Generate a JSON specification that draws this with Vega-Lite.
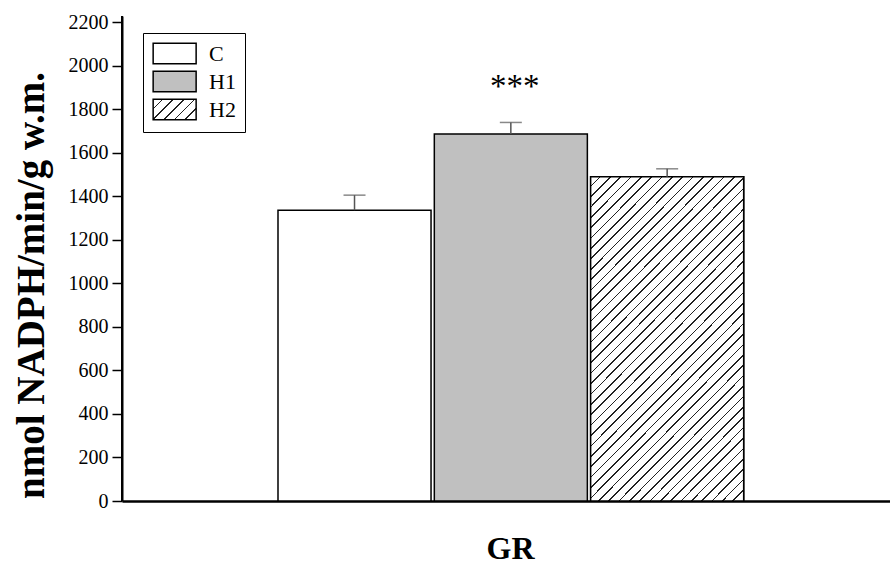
{
  "$schema": "https://vega.github.io/schema/vega-lite/v6.json",
  "autosize": {"type": "none"},
  "width": 768,
  "height": 485,
  "padding": {"left": 122, "top": 16, "right": 0, "bottom": 65},
  "background": "white",
  "config": {"view": {"stroke": null}},
  "data": {"values": [
    {"g": "C", "mean": 1336, "hi": 1405, "sig": ""},
    {"g": "H1", "mean": 1686, "hi": 1739, "sig": "***"},
    {"g": "H2", "mean": 1489, "hi": 1526, "sig": ""}
  ]},
  "encoding": {
    "x": {"field": "g", "type": "nominal",
      "scale": {"domain": ["C", "H1", "H2"], "paddingInner": 0.021, "paddingOuter": 0.967, "align": 0.516},
      "axis": {"orient": "bottom", "labels": false, "ticks": false, "domainWidth": 2.5, "domainColor": "black",
        "title": "GR", "titleFont": "Liberation Serif", "titleFontSize": 32, "titleFontWeight": "bold", "titleColor": "black",
        "titleBaseline": "alphabetic", "titleY": 57, "titleX": 388}
    }
  },
  "layer": [
    {
      "mark": {"type": "bar", "stroke": "black", "strokeWidth": 1.5},
      "encoding": {
        "y": {"field": "mean", "type": "quantitative",
          "scale": {"domain": [0, 2228], "nice": false, "zero": true},
          "axis": {
            "values": [0,100,200,300,400,500,600,700,800,900,1000,1100,1200,1300,1400,1500,1600,1700,1800,1900,2000,2100,2200],
            "format": "d",
            "labelExpr": "datum.value % 200 === 0 ? datum.label : ''",
            "tickSize": {"condition": {"test": "datum.value % 200 === 0", "value": 10}, "value": 5},
            "tickWidth": 1.5, "tickColor": "black", "domainColor": "black", "domainWidth": 2,
            "grid": false, "labelFont": "Liberation Serif", "labelFontSize": 20, "labelColor": "black", "labelPadding": 4,
            "title": "nmol NADPH/min/g w.m.", "titleFont": "Liberation Serif", "titleFontSize": 39, "titleFontWeight": "bold",
            "titleColor": "black", "titleAngle": -90, "titleBaseline": "alphabetic", "titleAlign": "center", "titleX": -79, "titleY": 269
          }
        },
        "fill": {"field": "g", "type": "nominal",
          "scale": {"domain": ["C", "H1", "H2"], "range": ["#ffffff", "#c0c0c0",
            {"expr": "{gradient: 'linear', x1: 0, y1: 0, x2: 1.2026, y2: 0.5789, stops: [{offset: 0, color: '#fff'}, {offset: 0.14, color: '#fff'}, {offset: 0.14, color: '#222'}, {offset: 0.1667, color: '#222'}, {offset: 0.1667, color: '#fff'}, {offset: 0.3067, color: '#fff'}, {offset: 0.3067, color: '#222'}, {offset: 0.3333, color: '#222'}, {offset: 0.3333, color: '#fff'}, {offset: 0.4733, color: '#fff'}, {offset: 0.4733, color: '#222'}, {offset: 0.5, color: '#222'}, {offset: 0.5, color: '#fff'}, {offset: 0.64, color: '#fff'}, {offset: 0.64, color: '#222'}, {offset: 0.6667, color: '#222'}, {offset: 0.6667, color: '#fff'}, {offset: 0.8067, color: '#fff'}, {offset: 0.8067, color: '#222'}, {offset: 0.8333, color: '#222'}, {offset: 0.8333, color: '#fff'}, {offset: 0.9733, color: '#fff'}, {offset: 0.9733, color: '#222'}, {offset: 1, color: '#222'}]}"}
          ]},
          "legend": {
            "orient": "none", "legendX": 21, "legendY": 17, "title": null,
            "strokeColor": "black", "fillColor": "white", "padding": 9,
            "symbolType": "M-1,-1H3.155V1H-1Z", "symbolSize": 428,
            "symbolStrokeColor": "black", "symbolStrokeWidth": 1.5,
            "labelFont": "Liberation Serif", "labelFontSize": 22, "labelColor": "black", "labelOffset": 34, "rowPadding": 1
          }
        }
      }
    },
    {
      "transform": [{"filter": "datum.g === 'H2'"}],
      "mark": {"type": "bar", "stroke": "black", "strokeWidth": 1.5,
        "fill": {"gradient": "linear", "x1": 0, "y1": 0, "x2": 0.5717, "y2": 1.2035, "stops": [
          {"offset": 0, "color": "#fff"},
          {"offset": 0.0182, "color": "#fff"}, {"offset": 0.0182, "color": "#222"}, {"offset": 0.0217, "color": "#222"}, {"offset": 0.0217, "color": "#fff"},
          {"offset": 0.0400, "color": "#fff"}, {"offset": 0.0400, "color": "#222"}, {"offset": 0.0435, "color": "#222"}, {"offset": 0.0435, "color": "#fff"},
          {"offset": 0.0617, "color": "#fff"}, {"offset": 0.0617, "color": "#222"}, {"offset": 0.0652, "color": "#222"}, {"offset": 0.0652, "color": "#fff"},
          {"offset": 0.0835, "color": "#fff"}, {"offset": 0.0835, "color": "#222"}, {"offset": 0.0870, "color": "#222"}, {"offset": 0.0870, "color": "#fff"},
          {"offset": 0.1052, "color": "#fff"}, {"offset": 0.1052, "color": "#222"}, {"offset": 0.1087, "color": "#222"}, {"offset": 0.1087, "color": "#fff"},
          {"offset": 0.1269, "color": "#fff"}, {"offset": 0.1269, "color": "#222"}, {"offset": 0.1304, "color": "#222"}, {"offset": 0.1304, "color": "#fff"},
          {"offset": 0.1487, "color": "#fff"}, {"offset": 0.1487, "color": "#222"}, {"offset": 0.1522, "color": "#222"}, {"offset": 0.1522, "color": "#fff"},
          {"offset": 0.1704, "color": "#fff"}, {"offset": 0.1704, "color": "#222"}, {"offset": 0.1739, "color": "#222"}, {"offset": 0.1739, "color": "#fff"},
          {"offset": 0.1922, "color": "#fff"}, {"offset": 0.1922, "color": "#222"}, {"offset": 0.1957, "color": "#222"}, {"offset": 0.1957, "color": "#fff"},
          {"offset": 0.2139, "color": "#fff"}, {"offset": 0.2139, "color": "#222"}, {"offset": 0.2174, "color": "#222"}, {"offset": 0.2174, "color": "#fff"},
          {"offset": 0.2356, "color": "#fff"}, {"offset": 0.2356, "color": "#222"}, {"offset": 0.2391, "color": "#222"}, {"offset": 0.2391, "color": "#fff"},
          {"offset": 0.2574, "color": "#fff"}, {"offset": 0.2574, "color": "#222"}, {"offset": 0.2609, "color": "#222"}, {"offset": 0.2609, "color": "#fff"},
          {"offset": 0.2791, "color": "#fff"}, {"offset": 0.2791, "color": "#222"}, {"offset": 0.2826, "color": "#222"}, {"offset": 0.2826, "color": "#fff"},
          {"offset": 0.3008, "color": "#fff"}, {"offset": 0.3008, "color": "#222"}, {"offset": 0.3043, "color": "#222"}, {"offset": 0.3043, "color": "#fff"},
          {"offset": 0.3226, "color": "#fff"}, {"offset": 0.3226, "color": "#222"}, {"offset": 0.3261, "color": "#222"}, {"offset": 0.3261, "color": "#fff"},
          {"offset": 0.3443, "color": "#fff"}, {"offset": 0.3443, "color": "#222"}, {"offset": 0.3478, "color": "#222"}, {"offset": 0.3478, "color": "#fff"},
          {"offset": 0.3661, "color": "#fff"}, {"offset": 0.3661, "color": "#222"}, {"offset": 0.3696, "color": "#222"}, {"offset": 0.3696, "color": "#fff"},
          {"offset": 0.3878, "color": "#fff"}, {"offset": 0.3878, "color": "#222"}, {"offset": 0.3913, "color": "#222"}, {"offset": 0.3913, "color": "#fff"},
          {"offset": 0.4095, "color": "#fff"}, {"offset": 0.4095, "color": "#222"}, {"offset": 0.4130, "color": "#222"}, {"offset": 0.4130, "color": "#fff"},
          {"offset": 0.4313, "color": "#fff"}, {"offset": 0.4313, "color": "#222"}, {"offset": 0.4348, "color": "#222"}, {"offset": 0.4348, "color": "#fff"},
          {"offset": 0.4530, "color": "#fff"}, {"offset": 0.4530, "color": "#222"}, {"offset": 0.4565, "color": "#222"}, {"offset": 0.4565, "color": "#fff"},
          {"offset": 0.4748, "color": "#fff"}, {"offset": 0.4748, "color": "#222"}, {"offset": 0.4783, "color": "#222"}, {"offset": 0.4783, "color": "#fff"},
          {"offset": 0.4965, "color": "#fff"}, {"offset": 0.4965, "color": "#222"}, {"offset": 0.5000, "color": "#222"}, {"offset": 0.5000, "color": "#fff"},
          {"offset": 0.5182, "color": "#fff"}, {"offset": 0.5182, "color": "#222"}, {"offset": 0.5217, "color": "#222"}, {"offset": 0.5217, "color": "#fff"},
          {"offset": 0.5400, "color": "#fff"}, {"offset": 0.5400, "color": "#222"}, {"offset": 0.5435, "color": "#222"}, {"offset": 0.5435, "color": "#fff"},
          {"offset": 0.5617, "color": "#fff"}, {"offset": 0.5617, "color": "#222"}, {"offset": 0.5652, "color": "#222"}, {"offset": 0.5652, "color": "#fff"},
          {"offset": 0.5835, "color": "#fff"}, {"offset": 0.5835, "color": "#222"}, {"offset": 0.5870, "color": "#222"}, {"offset": 0.5870, "color": "#fff"},
          {"offset": 0.6052, "color": "#fff"}, {"offset": 0.6052, "color": "#222"}, {"offset": 0.6087, "color": "#222"}, {"offset": 0.6087, "color": "#fff"},
          {"offset": 0.6269, "color": "#fff"}, {"offset": 0.6269, "color": "#222"}, {"offset": 0.6304, "color": "#222"}, {"offset": 0.6304, "color": "#fff"},
          {"offset": 0.6487, "color": "#fff"}, {"offset": 0.6487, "color": "#222"}, {"offset": 0.6522, "color": "#222"}, {"offset": 0.6522, "color": "#fff"},
          {"offset": 0.6704, "color": "#fff"}, {"offset": 0.6704, "color": "#222"}, {"offset": 0.6739, "color": "#222"}, {"offset": 0.6739, "color": "#fff"},
          {"offset": 0.6922, "color": "#fff"}, {"offset": 0.6922, "color": "#222"}, {"offset": 0.6957, "color": "#222"}, {"offset": 0.6957, "color": "#fff"},
          {"offset": 0.7139, "color": "#fff"}, {"offset": 0.7139, "color": "#222"}, {"offset": 0.7174, "color": "#222"}, {"offset": 0.7174, "color": "#fff"},
          {"offset": 0.7356, "color": "#fff"}, {"offset": 0.7356, "color": "#222"}, {"offset": 0.7391, "color": "#222"}, {"offset": 0.7391, "color": "#fff"},
          {"offset": 0.7574, "color": "#fff"}, {"offset": 0.7574, "color": "#222"}, {"offset": 0.7609, "color": "#222"}, {"offset": 0.7609, "color": "#fff"},
          {"offset": 0.7791, "color": "#fff"}, {"offset": 0.7791, "color": "#222"}, {"offset": 0.7826, "color": "#222"}, {"offset": 0.7826, "color": "#fff"},
          {"offset": 0.8009, "color": "#fff"}, {"offset": 0.8009, "color": "#222"}, {"offset": 0.8044, "color": "#222"}, {"offset": 0.8044, "color": "#fff"},
          {"offset": 0.8226, "color": "#fff"}, {"offset": 0.8226, "color": "#222"}, {"offset": 0.8261, "color": "#222"}, {"offset": 0.8261, "color": "#fff"},
          {"offset": 0.8443, "color": "#fff"}, {"offset": 0.8443, "color": "#222"}, {"offset": 0.8478, "color": "#222"}, {"offset": 0.8478, "color": "#fff"},
          {"offset": 0.8661, "color": "#fff"}, {"offset": 0.8661, "color": "#222"}, {"offset": 0.8696, "color": "#222"}, {"offset": 0.8696, "color": "#fff"},
          {"offset": 0.8878, "color": "#fff"}, {"offset": 0.8878, "color": "#222"}, {"offset": 0.8913, "color": "#222"}, {"offset": 0.8913, "color": "#fff"},
          {"offset": 0.9095, "color": "#fff"}, {"offset": 0.9095, "color": "#222"}, {"offset": 0.9130, "color": "#222"}, {"offset": 0.9130, "color": "#fff"},
          {"offset": 0.9313, "color": "#fff"}, {"offset": 0.9313, "color": "#222"}, {"offset": 0.9348, "color": "#222"}, {"offset": 0.9348, "color": "#fff"},
          {"offset": 0.9530, "color": "#fff"}, {"offset": 0.9530, "color": "#222"}, {"offset": 0.9565, "color": "#222"}, {"offset": 0.9565, "color": "#fff"},
          {"offset": 0.9748, "color": "#fff"}, {"offset": 0.9748, "color": "#222"}, {"offset": 0.9783, "color": "#222"}, {"offset": 0.9783, "color": "#fff"},
          {"offset": 0.9965, "color": "#fff"}, {"offset": 0.9965, "color": "#222"}, {"offset": 1, "color": "#222"}
        ]}
      },
      "encoding": {
        "y": {"field": "mean", "type": "quantitative"}
      }
    },
    {
      "mark": {"type": "rule", "color": "#555", "strokeWidth": 1.5},
      "encoding": {
        "y": {"field": "mean", "type": "quantitative"},
        "y2": {"field": "hi"}
      }
    },
    {
      "mark": {"type": "tick", "orient": "horizontal", "color": "#555", "size": 22, "thickness": 1.5},
      "encoding": {
        "y": {"field": "hi", "type": "quantitative"}
      }
    },
    {
      "mark": {"type": "text", "font": "Liberation Serif", "fontSize": 33, "color": "black", "baseline": "alphabetic", "dy": -25, "dx": 4},
      "encoding": {
        "y": {"field": "hi", "type": "quantitative"},
        "text": {"field": "sig"}
      }
    },
    {
      "data": {"values": [{}]},
      "mark": {"type": "rule", "color": "black", "strokeWidth": 2},
      "encoding": {"y": {"datum": 2228}}
    }
  ]
}
